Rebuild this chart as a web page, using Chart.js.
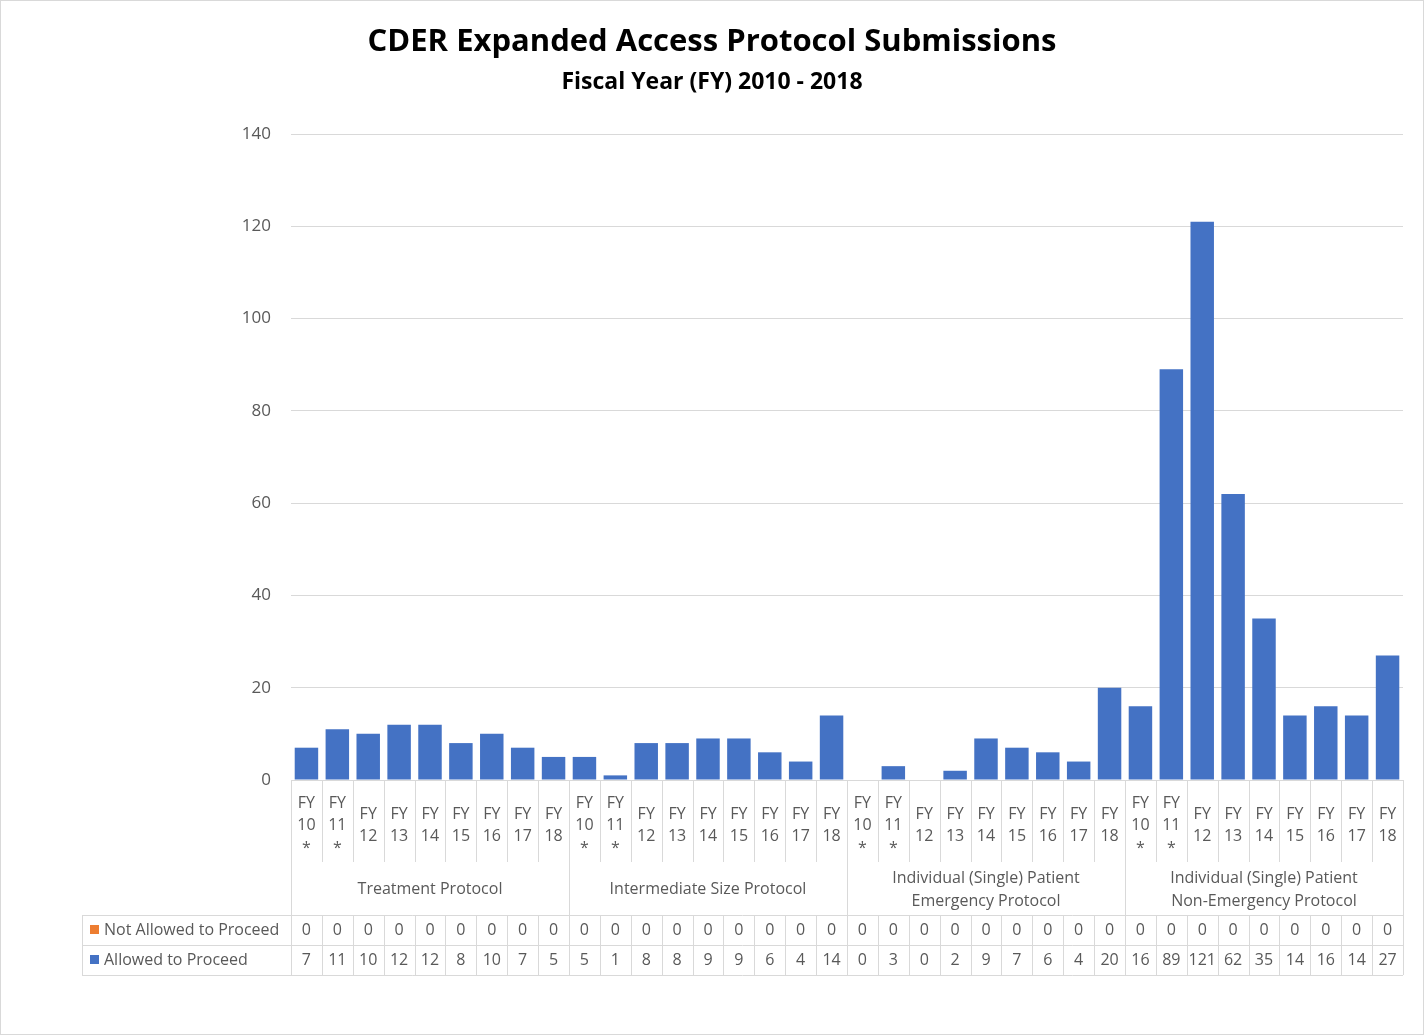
<!DOCTYPE html>
<html><head><meta charset="utf-8">
<script src="https://cdn.jsdelivr.net/npm/chart.js@4/dist/chart.umd.min.js"></script>
<style>
body{margin:0;background:#fff}
#wrap{position:absolute;left:0;top:0;width:1422px;height:1033px;border:1px solid #d9d9d9}
canvas{display:block}
</style></head><body>
<div id="wrap"><canvas id="c" width="1422" height="1033"></canvas></div>
<script>
// data
const years = [["FY","10","*"],["FY","11","*"],["FY","12"],["FY","13"],["FY","14"],["FY","15"],["FY","16"],["FY","17"],["FY","18"]];
const groups = [["Treatment Protocol"],["Intermediate Size Protocol"],["Individual (Single) Patient","Emergency Protocol"],["Individual (Single) Patient","Non-Emergency Protocol"]];
const allowed = [7,11,10,12,12,8,10,7,5, 5,1,8,8,9,9,6,4,14, 0,3,0,2,9,7,6,4,20, 16,89,121,62,35,14,16,14,27];
const notAllowed = new Array(36).fill(0);
const labels = [];
groups.forEach(g => years.forEach(y => labels.push(y)));

const txt = '#595959', line = '#d9d9d9';
const F = '"Open Sans", sans-serif';

const tablePlugin = {
  id: 'tbl',
  afterDraw(chart) {
    const ctx = chart.ctx, xs = chart.scales.x, a = chart.chartArea;
    const n = labels.length, w = (a.right - a.left) / n;
    const left = 81, r1 = 914, r2 = 944, r3 = 974;
    ctx.save();
    // titles
    ctx.fillStyle = '#000'; ctx.textAlign = 'center'; ctx.textBaseline = 'middle';
    ctx.font = 'bold 31px ' + F; ctx.fillText('CDER Expanded Access Protocol Submissions', 711, 41);
    ctx.font = 'bold 23px ' + F; ctx.fillText('Fiscal Year (FY) 2010 - 2018', 711, 81);
    ctx.strokeStyle = line; ctx.lineWidth = 1;
    const hl = (x1, x2, y) => { ctx.beginPath(); ctx.moveTo(x1, y + .5); ctx.lineTo(x2, y + .5); ctx.stroke(); };
    const vl = (x, y1, y2) => { ctx.beginPath(); ctx.moveTo(Math.round(x) + .5, y1); ctx.lineTo(Math.round(x) + .5, y2); ctx.stroke(); };
    hl(left, a.right, r1); hl(left, a.right, r2); hl(left, a.right, r3);
    vl(left, r1, r3);
    for (let i = 0; i <= n; i++) {
      const x = a.left + i * w;
      if (i % 9 === 0) vl(x, a.bottom, r3);
      else { vl(x, a.bottom, 861); vl(x, r1, r3); }
    }
    ctx.fillStyle = txt; ctx.font = '16px ' + F;
    labels.forEach((lb, i) => {
      const x = xs.getPixelForValue(i);
      const y0 = lb.length === 3 ? 802 : 813;
      lb.forEach((s, k) => ctx.fillText(s, x, y0 + k * 22 + (k === 2 ? 1 : 0)));
      ctx.fillText(String(notAllowed[i]), x, 929);
      ctx.fillText(String(allowed[i]), x, 959);
    });
    groups.forEach((g, gi) => {
      const cx = a.left + (gi * 9 + 4.5) * w;
      if (g.length === 1) ctx.fillText(g[0], cx, 888);
      else { ctx.fillText(g[0], cx, 877); ctx.fillText(g[1], cx, 900); }
    });
    ctx.textAlign = 'left';
    ctx.fillStyle = '#ED7D31'; ctx.fillRect(89, 924, 9, 9);
    ctx.fillStyle = '#4472C4'; ctx.fillRect(89, 954, 9, 9);
    ctx.fillStyle = txt;
    ctx.fillText('Not Allowed to Proceed', 103, 929);
    ctx.fillText('Allowed to Proceed', 103, 959);
    ctx.restore();
  }
};

new Chart(document.getElementById('c'), {
  type: 'bar',
  data: {
    labels: labels.map(l => l.join(' ')),
    datasets: [
      { label: 'Allowed to Proceed', data: allowed, backgroundColor: '#4472C4' },
      { label: 'Not Allowed to Proceed', data: notAllowed, backgroundColor: '#ED7D31' }
    ]
  },
  options: {
    responsive: false, animation: false,
    devicePixelRatio: 1,
    layout: { padding: { top: 133, bottom: 246, right: 20, left: 0 } },
    plugins: { legend: { display: false }, tooltip: { enabled: false } },
    datasets: { bar: { categoryPercentage: 0.76, barPercentage: 1 } },
    scales: {
      x: { stacked: true, ticks: { display: false }, grid: { display: false }, border: { color: line } },
      y: {
        stacked: true, min: 0, max: 140,
        ticks: { stepSize: 20, color: txt, font: { size: 17, family: F }, padding: 20 },
        grid: { color: line, drawTicks: false }, border: { display: false },
        afterFit(s) { s.width = 290; }
      }
    }
  },
  plugins: [tablePlugin]
});
</script>
</body></html>
